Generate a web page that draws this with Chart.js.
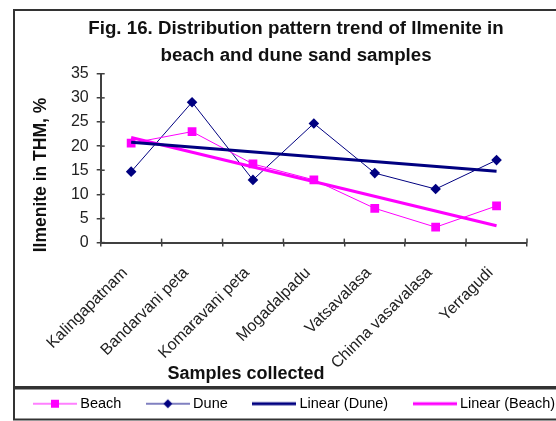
<!DOCTYPE html>
<html>
<head>
<meta charset="utf-8">
<script src="https://cdn.jsdelivr.net/npm/chart.js@4/dist/chart.umd.min.js"></script>
<style>
  html, body { margin: 0; padding: 0; background: #fff; overflow: hidden; }
  #wrap { width: 592px; height: 421px; }
</style>
</head>
<body>
<div id="wrap"><canvas id="myChart" width="592" height="421"></canvas></div>
<script>
// values (% ilmenite in THM)
const categories = ['Kalingapatnam', 'Bandarvani peta', 'Komaravani peta', 'Mogadalpadu',
                    'Vatsavalasa', 'Chinna vasavalasa', 'Yerragudi'];
const beachValues = [20.6, 23.0, 16.3, 13.0, 7.1, 3.2, 7.6];
const duneValues = [14.7, 29.1, 13.0, 24.7, 14.4, 11.1, 17.1];
// excel linear trendlines: first and last point only
const duneTrend = [20.8, null, null, null, null, null, 14.8];
const beachTrend = [21.8, null, null, null, null, null, 3.5];
const yMin = 0, yMax = 35, yStep = 5;

const FONT = 'Liberation Sans, Arial, sans-serif';
const MAGENTA = '#ff00ff';
const NAVY = '#000080';
const AXIS = '#404040';

// little line+marker samples for the legend
function legendSample(color, width, marker) {
    const c = document.createElement('canvas');
    c.width = 44; c.height = 12;
    const g = c.getContext('2d');
    g.strokeStyle = color;
    g.lineWidth = width;
    g.beginPath(); g.moveTo(0, 6); g.lineTo(44, 6); g.stroke();
    g.fillStyle = color;
    if (marker === 'rect') g.fillRect(18, 2, 8, 8);
    if (marker === 'rectRot') {
        g.beginPath();
        g.moveTo(22, 1.5); g.lineTo(26.5, 6); g.lineTo(22, 10.5); g.lineTo(17.5, 6);
        g.closePath(); g.fill();
    }
    return c;
}
const samples = [
    legendSample(MAGENTA, 1, 'rect'),
    legendSample(NAVY, 1, 'rectRot'),
    legendSample(NAVY, 3),
    legendSample(MAGENTA, 3)
];

// frame, inner tick halves and axis titles
const framePlugin = {
    id: 'frame',
    afterDraw(chart) {
        const ctx = chart.ctx;
        const ca = chart.chartArea;
        const xs = chart.scales.x, ys = chart.scales.y;
        ctx.save();
        ctx.strokeStyle = AXIS;
        ctx.lineWidth = 1.5;
        for (let i = 0; i <= categories.length; i++) {
            const px = xs.getPixelForValue(i - 0.5);
            ctx.beginPath(); ctx.moveTo(px, ca.bottom); ctx.lineTo(px, ca.bottom - 4); ctx.stroke();
        }
        ys.ticks.forEach(t => {
            const py = ys.getPixelForValue(t.value);
            ctx.beginPath(); ctx.moveTo(ca.left, py); ctx.lineTo(ca.left + 4, py); ctx.stroke();
        });

        ctx.strokeStyle = '#333';
        ctx.lineWidth = 2;
        ctx.strokeRect(14, 10, 564, 377);
        ctx.strokeRect(14, 388.5, 564, 31);

        ctx.fillStyle = '#111';
        ctx.font = 'bold 18px ' + FONT;
        ctx.textAlign = 'center';
        ctx.textBaseline = 'middle';
        ctx.fillText('Samples collected', 246, 374);
        ctx.translate(41, 175);
        ctx.rotate(-Math.PI / 2);
        ctx.font = 'bold 17.5px ' + FONT;
        ctx.fillText('Ilmenite in THM, %', 0, 0);
        ctx.restore();
    }
};

var ctx = document.getElementById('myChart').getContext('2d');
var chart = new Chart(ctx, {
    type: 'line',
    data: {
        labels: categories,
        datasets: [
            {
                label: 'Beach',
                data: beachValues,
                borderColor: MAGENTA,
                backgroundColor: MAGENTA,
                borderWidth: 1,
                pointStyle: 'rect',
                pointRadius: 6.2,
                pointBorderWidth: 0,
                tension: 0,
                order: 2
            },
            {
                label: 'Dune',
                data: duneValues,
                borderColor: NAVY,
                backgroundColor: NAVY,
                borderWidth: 1,
                pointStyle: 'rectRot',
                pointRadius: 5.3,
                pointBorderWidth: 0,
                tension: 0,
                order: 2
            },
            {
                label: 'Linear (Dune)',
                data: duneTrend,
                borderColor: NAVY,
                borderWidth: 3,
                pointRadius: 0,
                spanGaps: true,
                order: 1
            },
            {
                label: 'Linear (Beach)',
                data: beachTrend,
                borderColor: MAGENTA,
                borderWidth: 3,
                pointRadius: 0,
                spanGaps: true,
                order: 1
            }
        ]
    },
    options: {
        responsive: false,
        animation: false,
        layout: { padding: { left: 0, right: 0, top: 5, bottom: 0 } },
        plugins: {
            title: {
                display: true,
                text: ['Fig. 16. Distribution pattern trend of Ilmenite in', 'beach and dune sand samples'],
                color: '#111',
                font: { family: FONT, size: 18.7, weight: 'bold', lineHeight: 1.45 },
                padding: { top: 10, bottom: 4.5 }
            },
            legend: {
                display: true,
                position: 'bottom',
                labels: {
                    usePointStyle: true,
                    pointStyleWidth: 36,
                    padding: 28.5,
                    color: '#222',
                    font: { family: FONT, size: 14.5 },
                    generateLabels: c => c.data.datasets.map((ds, i) => ({
                        text: ds.label,
                        pointStyle: samples[i],
                        datasetIndex: i,
                        hidden: !c.isDatasetVisible(i),
                        fillStyle: 'transparent',
                        strokeStyle: 'transparent',
                        lineWidth: 0
                    }))
                }
            },
            tooltip: { enabled: false }
        },
        scales: {
            x: {
                offset: true,
                afterFit: s => { s.height = s.chart.height - s.chart.legend.height - 242.6; },
                grid: { offset: true, drawOnChartArea: false, tickLength: 4, color: AXIS, lineWidth: 1.5 },
                border: { color: AXIS, width: 2 },
                ticks: {
                    autoSkip: false, maxRotation: 45, minRotation: 45, padding: 17, labelOffset: -6,
                    color: '#222', font: { family: FONT, size: 16 }
                }
            },
            y: {
                min: yMin,
                max: yMax,
                afterFit: s => { s.width = 100.7; },
                grid: { drawOnChartArea: false, tickLength: 4, color: AXIS, lineWidth: 1.5 },
                border: { color: AXIS, width: 2 },
                ticks: { stepSize: yStep, autoSkip: false, padding: 8, color: '#222', font: { family: FONT, size: 16 } }
            },
            // empty right-hand box: the excel chart object runs past the picture's right edge
            yRight: {
                position: 'right',
                display: true,
                afterFit: s => { s.width = 65; },
                grid: { display: false },
                border: { display: false },
                ticks: { display: false }
            }
        }
    },
    plugins: [framePlugin]
});
</script>
</body>
</html>
